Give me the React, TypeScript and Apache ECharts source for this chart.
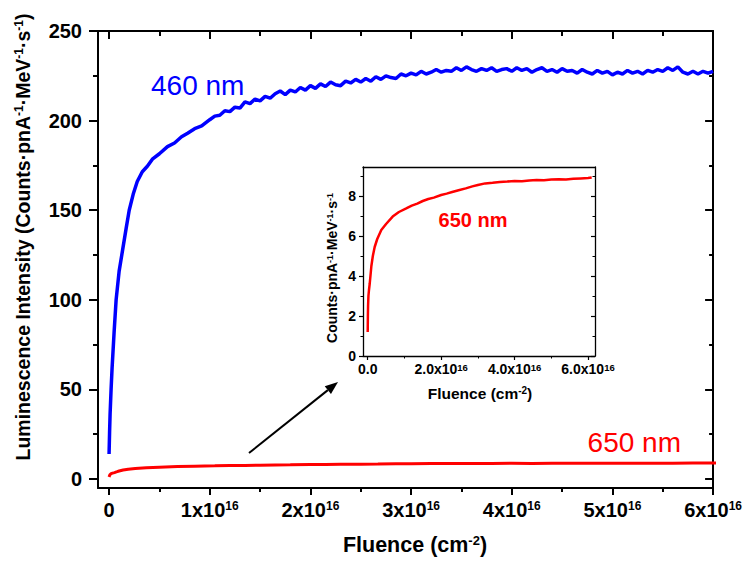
import React, { useEffect, useRef } from "react";
import * as echarts from "echarts";

// ---- data (fluence in units of 1e16 cm^-2) ----
const blueFluence = [
  0, 0.005, 0.01, 0.02, 0.03, 0.05, 0.07, 0.1, 0.135, 0.17, 0.2, 0.24, 0.28, 0.33, 0.38, 0.43, 0.5, 0.58, 0.65,
  0.72, 0.78, 0.85, 0.92, 1.0,
  1.05, 1.1, 1.15, 1.2, 1.25, 1.3, 1.35, 1.4, 1.45, 1.5, 1.55, 1.6, 1.65, 1.7, 1.75, 1.8, 1.85, 1.9, 1.95,
  2.0, 2.05, 2.1, 2.15, 2.2, 2.25, 2.3, 2.35, 2.4, 2.45, 2.5, 2.55, 2.6, 2.65, 2.7, 2.75, 2.8, 2.85, 2.9, 2.95,
  3.0, 3.05, 3.1, 3.15, 3.2, 3.25, 3.3, 3.35, 3.4, 3.45, 3.5, 3.55, 3.6, 3.65, 3.7, 3.75, 3.8, 3.85, 3.9, 3.95,
  4.0, 4.05, 4.1, 4.15, 4.2, 4.25, 4.3, 4.35, 4.4, 4.45, 4.5, 4.55, 4.6, 4.65, 4.7, 4.75, 4.8, 4.85, 4.9, 4.95,
  5.0, 5.05, 5.1, 5.15, 5.2, 5.25, 5.3, 5.35, 5.4, 5.45, 5.5, 5.55, 5.6, 5.65, 5.7, 5.75, 5.8, 5.85, 5.9, 5.95, 6.0,
];
const blueIntensity = [
  14, 26, 36, 50, 62, 82, 100, 116, 128, 140, 150, 159, 166, 171.5, 174.5, 178.5, 181.5, 185.5, 187.5, 191, 193, 195.5, 197, 200.5,
  202.5, 203.0, 205.5, 205.0, 207.5, 207.0, 210.5, 209.5, 212.0, 211.0, 213.5, 212.5, 215.0, 216.5, 214.5, 217.0, 216.0, 218.5, 217.0,
  219.5, 218.0, 220.5, 219.0, 221.5, 220.0, 219.5, 222.0, 221.0, 223.0, 221.5, 223.5, 222.0, 224.5, 223.0, 225.0, 224.0, 223.5, 226.0, 225.0,
  226.5, 225.5, 227.5, 226.0, 227.0, 228.5, 227.0, 228.0, 227.5, 229.5, 228.0, 230.0, 228.5, 227.5, 229.0, 228.0, 229.5, 227.5, 228.5, 229.0,
  227.5, 229.5, 228.0, 229.0, 227.0, 228.5, 229.5, 227.5, 228.5, 227.0, 229.0, 227.5, 228.0, 226.5, 228.5, 227.0, 226.0, 228.0, 226.5, 227.5,
  225.5, 227.0, 226.0, 228.0, 226.5, 227.5, 226.0, 228.0, 227.0, 228.5, 227.5, 229.5, 228.0, 230.0, 227.0, 226.0, 227.5, 226.0, 227.5, 226.5, 227.5,
];

const redFluence = [
  0, 0.005, 0.01, 0.02, 0.035, 0.054, 0.08, 0.1, 0.14, 0.19, 0.26, 0.37, 0.5, 0.68, 0.85, 1.05, 1.2, 1.35, 1.5,
  1.65, 1.8, 2.0, 2.15, 2.3, 2.5, 2.67, 2.85, 3.0, 3.2, 3.4, 3.6, 3.8, 4.0, 4.2, 4.4, 4.6, 4.8, 5.0, 5.2, 5.4,
  5.6, 5.8, 6.0, 6.1,
];
const redIntensity = [
  1.2, 2.0, 2.5, 3.0, 3.3, 3.6, 4.1, 4.5, 5.0, 5.45, 5.85, 6.3, 6.6, 6.97, 7.2, 7.38, 7.52, 7.62, 7.75,
  7.85, 7.92, 8.05, 8.12, 8.2, 8.3, 8.38, 8.48, 8.55, 8.63, 8.66, 8.7, 8.72, 8.75, 8.74, 8.78, 8.8, 8.79, 8.82,
  8.84, 8.83, 8.86, 8.88, 8.9, 8.92,
];

const mainXMajor = [0, 1, 2, 3, 4, 5, 6];
const mainXMinor = [0.5, 1.5, 2.5, 3.5, 4.5, 5.5];
const mainYMajor = [0, 50, 100, 150, 200, 250];
const mainYMinor = [25, 75, 125, 175, 225];
const insetXMajor = [0, 2, 4, 6];
const insetXMinor = [1, 3, 5];
const insetYMajor = [0, 2, 4, 6, 8];
const insetYMinor = [1, 3, 5, 7, 9];

const FONT = "'Liberation Sans', Arial, sans-serif";

const pairs = (xs: number[], ys: number[]) => xs.map((x, i) => [x, ys[i]]);

export default function App() {
  const ref = useRef<HTMLDivElement>(null);
  useEffect(() => {
    if (!ref.current) return;
    const chart = echarts.init(ref.current, null, { renderer: "svg" });

    const supRich = (size: number) => ({
      sup: { fontSize: size, fontWeight: "bold", fontFamily: FONT, color: "#000", verticalAlign: "top" },
    });

    const axisBase = (gridIndex: number, min: number, max: number, position: string, lineW: number) => ({
      type: "value",
      gridIndex,
      min,
      max,
      position,
      splitLine: { show: false },
      axisLine: { show: true, onZero: false, lineStyle: { color: "#000", width: lineW } },
      axisLabel: { show: false },
      axisTick: { show: false },
    });

    const tickAxis = (
      gridIndex: number,
      min: number,
      max: number,
      position: string,
      vals: number[],
      len: number,
      inside: boolean,
      w: number
    ) => ({
      type: "value",
      gridIndex,
      min,
      max,
      position,
      splitLine: { show: false },
      axisLine: { show: false, onZero: false },
      axisLabel: { show: false },
      axisTick: { show: true, customValues: vals, length: len, inside, lineStyle: { color: "#000", width: w } },
    });

    const mxMin = -0.11, mxMax = 6.0, myMin = -5, myMax = 250;
    const ixMin = -0.128, ixMax = 6.19, iyMin = 0, iyMax = 9.45;

    const xAxes: any[] = [
      {
        ...axisBase(0, mxMin, mxMax, "bottom", 2),
        axisTick: { show: true, customValues: mainXMajor, length: 7, lineStyle: { color: "#000", width: 2 } },
        axisLabel: {
          show: true,
          customValues: mainXMajor,
          margin: 12,
          fontFamily: FONT,
          fontWeight: "bold",
          fontSize: 20,
          color: "#000",
          formatter: (v: number) => (v === 0 ? "0" : `${v}x10{sup|16}`),
          rich: supRich(12),
        },
      },
      tickAxis(0, mxMin, mxMax, "bottom", mainXMinor, 4, false, 2),
      { ...axisBase(0, mxMin, mxMax, "top", 2) },
      tickAxis(0, mxMin, mxMax, "top", mainXMajor, 8, true, 2),
      tickAxis(0, mxMin, mxMax, "top", mainXMinor, 5, true, 2),
      {
        ...axisBase(1, ixMin, ixMax, "bottom", 1.3),
        axisTick: { show: true, customValues: insetXMajor, length: 4, lineStyle: { color: "#000", width: 1.2 } },
        axisLabel: {
          show: true,
          customValues: insetXMajor,
          margin: 6,
          fontFamily: FONT,
          fontWeight: "bold",
          fontSize: 14,
          color: "#000",
          formatter: (v: number) => (v === 0 ? "0.0" : `${v.toFixed(1)}x10{sup|16}`),
          rich: supRich(9.5),
        },
      },
      tickAxis(1, ixMin, ixMax, "bottom", insetXMinor, 2.5, false, 1),
      { ...axisBase(1, ixMin, ixMax, "top", 1.3) },
    ];

    const yAxes: any[] = [
      {
        ...axisBase(0, myMin, myMax, "left", 2),
        axisTick: { show: true, customValues: mainYMajor, length: 9, lineStyle: { color: "#000", width: 2 } },
        axisLabel: {
          show: true,
          customValues: mainYMajor,
          margin: 16,
          fontFamily: FONT,
          fontWeight: "bold",
          fontSize: 20,
          color: "#000",
        },
      },
      tickAxis(0, myMin, myMax, "left", mainYMinor, 5, false, 2),
      { ...axisBase(0, myMin, myMax, "right", 2) },
      tickAxis(0, myMin, myMax, "right", mainYMajor, 8, true, 2),
      tickAxis(0, myMin, myMax, "right", mainYMinor, 4, true, 2),
      {
        ...axisBase(1, iyMin, iyMax, "left", 1.3),
        axisTick: { show: true, customValues: insetYMajor, length: 4, lineStyle: { color: "#000", width: 1.2 } },
        axisLabel: {
          show: true,
          customValues: insetYMajor,
          margin: 7,
          fontFamily: FONT,
          fontWeight: "bold",
          fontSize: 14,
          color: "#000",
        },
      },
      tickAxis(1, iyMin, iyMax, "left", insetYMinor, 2.5, false, 1),
      { ...axisBase(1, iyMin, iyMax, "right", 1.3) },
      tickAxis(1, iyMin, iyMax, "right", insetYMajor, 4, true, 1.2),
      tickAxis(1, iyMin, iyMax, "right", insetYMinor, 2.5, true, 1),
    ];

    // arrow geometry
    const tail = [249, 453];
    const tip = [338, 382];
    const dx = tip[0] - tail[0], dy = tip[1] - tail[1];
    const L = Math.hypot(dx, dy);
    const ux = dx / L, uy = dy / L;
    const hl = 13, hw = 5;
    const bx = tip[0] - ux * hl, by = tip[1] - uy * hl;

    const option: any = {
      animation: false,
      backgroundColor: "#fff",
      grid: [
        { left: 98, top: 31, width: 618, height: 457, containLabel: false },
        { left: 363, top: 167, width: 232, height: 189, containLabel: false },
      ],
      xAxis: xAxes,
      yAxis: yAxes,
      series: [
        {
          name: "460 nm",
          type: "line",
          xAxisIndex: 0,
          yAxisIndex: 0,
          data: pairs(blueFluence, blueIntensity),
          showSymbol: false,
          clip: true,
          lineStyle: { color: "#0000ff", width: 3.5 },
        },
        {
          name: "650 nm",
          type: "line",
          xAxisIndex: 0,
          yAxisIndex: 0,
          data: pairs(redFluence, redIntensity),
          showSymbol: false,
          clip: true,
          lineStyle: { color: "#ff0000", width: 3 },
        },
        {
          name: "650 nm inset",
          type: "line",
          xAxisIndex: 5,
          yAxisIndex: 5,
          data: pairs(redFluence, redIntensity),
          showSymbol: false,
          clip: true,
          lineStyle: { color: "#ff0000", width: 2.5 },
        },
      ],
      graphic: [
        {
          type: "text",
          x: 23,
          y: 237,
          rotation: Math.PI / 2,
          style: {
            text: "Luminescence Intensity (Counts·pnA{sup|-1}·MeV{sup|-1}·s{sup|-1})",
            fontFamily: FONT,
            fontWeight: "bold",
            fontSize: 19.5,
            fill: "#000",
            align: "center",
            verticalAlign: "middle",
            rich: supRich(12),
          },
        },
        {
          type: "text",
          x: 415,
          y: 545,
          style: {
            text: "Fluence (cm{sup|-2})",
            fontFamily: FONT,
            fontWeight: "bold",
            fontSize: 21.5,
            fill: "#000",
            align: "center",
            verticalAlign: "middle",
            rich: supRich(13),
          },
        },
        {
          type: "text",
          x: 332,
          y: 268,
          rotation: Math.PI / 2,
          style: {
            text: "Counts·pnA{sup|-1}·MeV{sup|-1}·s{sup|-1}",
            fontFamily: FONT,
            fontWeight: "bold",
            fontSize: 14,
            fill: "#000",
            align: "center",
            verticalAlign: "middle",
            rich: supRich(9),
          },
        },
        {
          type: "text",
          x: 480,
          y: 393,
          style: {
            text: "Fluence (cm{sup|-2})",
            fontFamily: FONT,
            fontWeight: "bold",
            fontSize: 15.5,
            fill: "#000",
            align: "center",
            verticalAlign: "middle",
            rich: supRich(10),
          },
        },
        {
          type: "text",
          x: 151,
          y: 85,
          style: {
            text: "460 nm",
            fontFamily: FONT,
            fontSize: 28,
            fill: "#0000ff",
            align: "left",
            verticalAlign: "middle",
          },
        },
        {
          type: "text",
          x: 681,
          y: 442,
          style: {
            text: "650 nm",
            fontFamily: FONT,
            fontSize: 28,
            fill: "#ff0000",
            align: "right",
            verticalAlign: "middle",
          },
        },
        {
          type: "text",
          x: 473,
          y: 220,
          style: {
            text: "650 nm",
            fontFamily: FONT,
            fontWeight: "bold",
            fontSize: 20,
            fill: "#ff0000",
            align: "center",
            verticalAlign: "middle",
          },
        },
        {
          type: "line",
          shape: { x1: tail[0], y1: tail[1], x2: bx, y2: by },
          style: { stroke: "#000", lineWidth: 2 },
        },
        {
          type: "polygon",
          shape: {
            points: [
              [tip[0], tip[1]],
              [bx - uy * hw, by + ux * hw],
              [bx + uy * hw, by - ux * hw],
            ],
          },
          style: { fill: "#000" },
        },
      ],
    };

    chart.setOption(option);
    return () => chart.dispose();
  }, []);

  return <div ref={ref} style={{ width: 745, height: 561, position: "absolute", left: 0, top: 0 }} />;
}
